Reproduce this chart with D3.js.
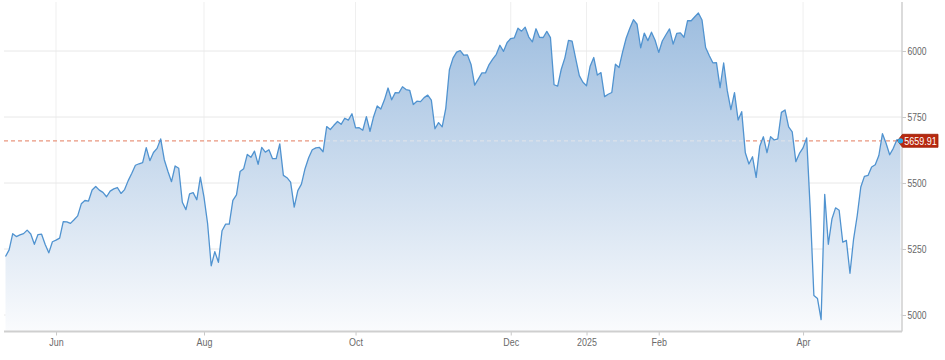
<!DOCTYPE html>
<html>
<head>
<meta charset="utf-8">
<script src="https://cdn.jsdelivr.net/npm/d3@7"></script>
<style>
  body { margin: 0; background: #fff; }
  text { font-family: "Liberation Sans", Arial, sans-serif; }
</style>
</head>
<body>
<svg id="chart" width="945" height="360"></svg>
<script>
// trading days, May 2024 - May 2025
let dates = [
  "2024-05-13","2024-05-14","2024-05-15","2024-05-16","2024-05-17","2024-05-20","2024-05-21","2024-05-22","2024-05-23","2024-05-24","2024-05-28","2024-05-29","2024-05-30","2024-05-31",
  "2024-06-03","2024-06-04","2024-06-05","2024-06-06","2024-06-07","2024-06-10","2024-06-11","2024-06-12","2024-06-13","2024-06-14","2024-06-17","2024-06-18","2024-06-20","2024-06-21","2024-06-24","2024-06-25","2024-06-26","2024-06-27","2024-06-28",
  "2024-07-01","2024-07-02","2024-07-03","2024-07-05","2024-07-08","2024-07-09","2024-07-10","2024-07-11","2024-07-12","2024-07-15","2024-07-16","2024-07-17","2024-07-18","2024-07-19","2024-07-22","2024-07-23","2024-07-24","2024-07-25","2024-07-26","2024-07-29","2024-07-30","2024-07-31",
  "2024-08-01","2024-08-02","2024-08-05","2024-08-06","2024-08-07","2024-08-08","2024-08-09","2024-08-12","2024-08-13","2024-08-14","2024-08-15","2024-08-16","2024-08-19","2024-08-20","2024-08-21","2024-08-22","2024-08-23","2024-08-26","2024-08-27","2024-08-28","2024-08-29","2024-08-30",
  "2024-09-03","2024-09-04","2024-09-05","2024-09-06","2024-09-09","2024-09-10","2024-09-11","2024-09-12","2024-09-13","2024-09-16","2024-09-17","2024-09-18","2024-09-19","2024-09-20","2024-09-23","2024-09-24","2024-09-25","2024-09-26","2024-09-27","2024-09-30",
  "2024-10-01","2024-10-02","2024-10-03","2024-10-04","2024-10-07","2024-10-08","2024-10-09","2024-10-10","2024-10-11","2024-10-14","2024-10-15","2024-10-16","2024-10-17","2024-10-18","2024-10-21","2024-10-22","2024-10-23","2024-10-24","2024-10-25","2024-10-28","2024-10-29","2024-10-30","2024-10-31",
  "2024-11-01","2024-11-04","2024-11-05","2024-11-06","2024-11-07","2024-11-08","2024-11-11","2024-11-12","2024-11-13","2024-11-14","2024-11-15","2024-11-18","2024-11-19","2024-11-20","2024-11-21","2024-11-22","2024-11-25","2024-11-26","2024-11-27","2024-11-29",
  "2024-12-02","2024-12-03","2024-12-04","2024-12-05","2024-12-06","2024-12-09","2024-12-10","2024-12-11","2024-12-12","2024-12-13","2024-12-16","2024-12-17","2024-12-18","2024-12-19","2024-12-20","2024-12-23","2024-12-24","2024-12-26","2024-12-27","2024-12-30","2024-12-31",
  "2025-01-02","2025-01-03","2025-01-06","2025-01-07","2025-01-08","2025-01-10","2025-01-13","2025-01-14","2025-01-15","2025-01-16","2025-01-17","2025-01-21","2025-01-22","2025-01-23","2025-01-24","2025-01-27","2025-01-28","2025-01-29","2025-01-30","2025-01-31",
  "2025-02-03","2025-02-04","2025-02-05","2025-02-06","2025-02-07","2025-02-10","2025-02-11","2025-02-12","2025-02-13","2025-02-14","2025-02-18","2025-02-19","2025-02-20","2025-02-21","2025-02-24","2025-02-25","2025-02-26","2025-02-27","2025-02-28",
  "2025-03-03","2025-03-04","2025-03-05","2025-03-06","2025-03-07","2025-03-10","2025-03-11","2025-03-12","2025-03-13","2025-03-14","2025-03-17","2025-03-18","2025-03-19","2025-03-20","2025-03-21","2025-03-24","2025-03-25","2025-03-26","2025-03-27","2025-03-28","2025-03-31",
  "2025-04-01","2025-04-02","2025-04-03","2025-04-04","2025-04-07","2025-04-08","2025-04-09","2025-04-10","2025-04-11","2025-04-14","2025-04-15","2025-04-16","2025-04-17","2025-04-21","2025-04-22","2025-04-23","2025-04-24","2025-04-25","2025-04-28","2025-04-29","2025-04-30",
  "2025-05-01","2025-05-02","2025-05-05","2025-05-06","2025-05-07","2025-05-08","2025-05-09"
];

let closes = [
  5221.42,5246.68,5308.15,5297.10,5303.27,5308.13,5321.41,5307.01,5267.84,5304.72,5306.04,5266.95,5235.48,5277.51,
  5283.40,5291.34,5354.03,5352.96,5346.99,5360.79,5375.32,5421.03,5433.74,5431.60,5473.23,5487.03,5473.17,5464.62,5447.87,5469.30,5477.90,5482.87,5460.48,
  5475.09,5509.01,5537.02,5567.19,5572.85,5576.98,5633.91,5584.54,5615.35,5631.22,5667.20,5588.27,5544.59,5505.00,5564.41,5555.74,5427.13,5399.22,5459.10,5463.54,5436.44,5522.30,
  5446.68,5346.56,5186.33,5240.03,5199.50,5319.31,5344.16,5344.39,5434.43,5455.21,5543.22,5554.25,5608.25,5597.12,5620.85,5570.64,5634.61,5616.84,5625.80,5592.18,5591.96,5648.40,
  5528.93,5520.07,5503.41,5408.42,5471.05,5495.52,5554.13,5595.76,5626.02,5633.09,5634.58,5618.26,5713.64,5702.55,5718.57,5732.93,5722.26,5745.37,5738.17,5762.48,
  5708.75,5709.54,5699.94,5751.07,5695.94,5751.13,5792.04,5780.05,5815.03,5859.85,5815.26,5842.47,5841.47,5864.67,5853.98,5851.20,5797.42,5809.86,5808.12,5823.52,5832.92,5813.67,5705.45,
  5728.80,5712.69,5782.76,5929.04,5973.10,5995.54,6001.35,5983.99,5985.38,5949.17,5870.62,5893.62,5916.98,5917.11,5948.71,5969.34,5987.37,6021.63,5998.74,6032.38,
  6047.15,6049.88,6086.49,6075.11,6090.27,6052.85,6034.91,6084.19,6051.25,6051.09,6074.08,6050.61,5872.16,5867.08,5930.85,5974.07,6040.04,6037.59,5970.84,5906.94,5881.63,
  5868.55,5942.47,5975.38,5909.03,5918.25,5827.04,5836.22,5842.91,5949.91,5937.34,5996.66,6049.24,6086.37,6118.71,6101.24,6012.28,6067.70,6039.31,6071.17,6040.53,
  5994.57,6037.88,6061.48,6083.57,6025.99,6066.44,6068.50,6051.97,6115.07,6114.63,6129.58,6144.15,6117.52,6013.13,5983.25,5955.25,5956.06,5861.57,5954.50,
  5849.72,5778.15,5842.63,5738.52,5770.20,5614.56,5572.07,5599.30,5521.52,5638.94,5675.12,5614.66,5675.29,5662.89,5667.56,5767.57,5776.65,5712.20,5693.31,5580.94,5611.85,
  5633.07,5670.97,5396.52,5074.08,5062.25,4982.77,5456.90,5268.05,5363.36,5405.97,5396.63,5275.70,5282.70,5158.20,5287.76,5375.86,5484.77,5525.21,5528.75,5560.83,5569.06,
  5604.14,5686.67,5650.38,5606.91,5631.28,5663.94,5659.91
];

let tickMonths = ["2024-06", "2024-08", "2024-10", "2024-12", "2025-01", "2025-02", "2025-04"];
let tickLabels = ["Jun", "Aug", "Oct", "Dec", "2025", "Feb", "Apr"];
let yTicks = [5000, 5250, 5500, 5750, 6000];

let svg = d3.select('#chart');

let plotLeft = 4, plotRight = 902, plotTop = 2, plotBottom = 331.5;

let x = d3.scaleLinear().domain([0, dates.length - 1]).range([5.5, 900.5]);
let y = d3.scaleLinear().domain([5000, 6000]).range([315, 51]);

let tickIdx = tickMonths.map(m => dates.findIndex(d => d.startsWith(m)));
let lastIdx = closes.length - 1;
let lastValue = closes[lastIdx];

// gradient for the area
let defs = svg.append('defs');
let grad = defs.append('linearGradient')
    .attr('id', 'fillGrad')
    .attr('gradientUnits', 'userSpaceOnUse')
    .attr('x1', 0).attr('x2', 0)
    .attr('y1', 12).attr('y2', plotBottom);
grad.append('stop').attr('offset', 0).attr('stop-color', '#9dbddf');
grad.append('stop').attr('offset', 1).attr('stop-color', '#fafbfd');

let area = d3.area()
    .x((d, i) => x(i))
    .y0(plotBottom)
    .y1(d => y(d));

let line = d3.line()
    .x((d, i) => x(i))
    .y(d => y(d));

defs.append('clipPath').attr('id', 'areaClip')
    .append('path').attr('d', area(closes));

// grid
svg.append('g').selectAll('line')
    .data(tickIdx)
    .enter()
    .append('line')
    .attr('x1', d => x(d)).attr('x2', d => x(d))
    .attr('y1', plotTop).attr('y2', plotBottom)
    .attr('stroke', '#efefef');

svg.append('g').selectAll('line')
    .data(yTicks)
    .enter()
    .append('line')
    .attr('x1', plotLeft).attr('x2', plotRight)
    .attr('y1', d => y(d)).attr('y2', d => y(d))
    .attr('stroke', '#e8e8e8');

// last value reference line (under the area)
svg.append('line')
    .attr('x1', plotLeft).attr('x2', plotRight)
    .attr('y1', y(lastValue)).attr('y2', y(lastValue))
    .attr('stroke', '#e9967f')
    .attr('stroke-width', 1.3)
    .attr('stroke-dasharray', '4,3');

svg.append('path')
    .attr('d', area(closes))
    .attr('fill', 'url(#fillGrad)');

// faint dashes where the area covers the reference line
svg.append('line')
    .attr('clip-path', 'url(#areaClip)')
    .attr('x1', plotLeft).attr('x2', plotRight)
    .attr('y1', y(lastValue)).attr('y2', y(lastValue))
    .attr('stroke', '#e4e6ea')
    .attr('stroke-opacity', 0.75)
    .attr('stroke-width', 1.3)
    .attr('stroke-dasharray', '4,3');

svg.append('path')
    .attr('d', line(closes))
    .attr('fill', 'none')
    .attr('stroke', '#5093d0')
    .attr('stroke-width', 1.3)
    .attr('stroke-linejoin', 'round');

// axes
let xAxis = d3.axisBottom(x)
    .tickValues(tickIdx)
    .tickFormat((d, i) => tickLabels[i])
    .tickSize(4)
    .tickPadding(3);

let gx = svg.append('g')
    .attr('transform', 'translate(0,' + plotBottom + ')')
    .call(xAxis);
gx.select('.domain').remove();
gx.selectAll('line').attr('stroke', '#c8c8c8');
gx.selectAll('text')
    .attr('fill', '#6a6a6a')
    .attr('font-size', 10.5)
    .attr('transform', 'scale(0.85,1)');

svg.append('line')
    .attr('x1', plotLeft).attr('x2', plotRight)
    .attr('y1', plotBottom).attr('y2', plotBottom)
    .attr('stroke', '#cfcfcf')
    .attr('stroke-width', 2);

let yAxis = d3.axisRight(y)
    .tickValues(yTicks)
    .tickFormat(d3.format('d'))
    .tickSize(4)
    .tickPadding(1);

let gy = svg.append('g')
    .attr('transform', 'translate(' + plotRight + ',0)')
    .call(yAxis);
gy.select('.domain').remove();
gy.selectAll('line').attr('stroke', '#c8c8c8');
gy.selectAll('text')
    .attr('fill', '#666')
    .attr('font-size', 10.5)
    .attr('x', 5.5)
    .attr('textLength', 19)
    .attr('lengthAdjust', 'spacingAndGlyphs');

svg.append('line')
    .attr('x1', plotRight).attr('x2', plotRight)
    .attr('y1', plotTop).attr('y2', plotBottom)
    .attr('stroke', '#cfcfcf')
    .attr('stroke-width', 1.5);

// last value flag
let ly = y(lastValue);
let lx = x(lastIdx);
svg.append('path')
    .attr('d', 'M' + (lx - 3) + ',' + ly +
               'L' + (lx + 2) + ',' + (ly - 6.5) +
               'H' + (lx + 37.5) +
               'V' + (ly + 6.5) +
               'H' + (lx + 2) + 'Z')
    .attr('fill', '#b7290f')
    .attr('stroke', '#9c2008')
    .attr('stroke-width', 0.8);

svg.append('text')
    .attr('x', lx + 3.8)
    .attr('y', ly + 3.9)
    .attr('fill', '#fff')
    .attr('font-size', 11)
    .attr('textLength', 32.5)
    .attr('lengthAdjust', 'spacingAndGlyphs')
    .text(d3.format('.2f')(lastValue));

svg.append('circle')
    .attr('cx', lx)
    .attr('cy', ly)
    .attr('r', 2.6)
    .attr('fill', '#2aa8e6');
</script>
</body>
</html>
